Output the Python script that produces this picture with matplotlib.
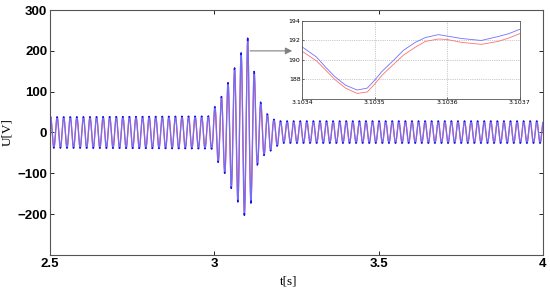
import numpy as np
import matplotlib
matplotlib.use("Agg")
import matplotlib.pyplot as plt

# -----------------------------------------
# data
# -----------------------------------------
f0 = 50.0                      # carrier frequency [Hz]
t_start, t_end = 2.5, 4.0

# positive peaks (time [s], value [V])
pos_t = [2.5, 2.9815, 3.0015, 3.0215, 3.0415, 3.0615, 3.0815, 3.1015,
         3.1215, 3.1415, 3.1615, 3.1815, 3.2015, 4.0]
pos_v = [38, 40, 63, 88, 122, 158, 195, 231, 149, 73, 45, 32, 28, 28]

# negative peaks
neg_t = [2.5, 2.9915, 3.0115, 3.0315, 3.0515, 3.0715, 3.0915, 3.1115,
         3.1315, 3.1515, 3.1715, 3.1915, 3.2115, 4.0]
neg_v = [-38, -40, -73, -100, -137, -170, -203, -173, -78, -56, -45, -33, -26, -26]

# zoomed detail (offset from 3.1034 in 1e-4 s)
zoom_t = [0.0, 0.2, 0.32, 0.45, 0.6, 0.76, 0.9, 1.0, 1.1, 1.24, 1.4, 1.56,
          1.7, 1.88, 2.0, 2.2, 2.47, 2.7, 2.85, 3.0]
zoom_blue = [191.35, 190.3, 189.3, 188.3, 187.4, 186.9, 187.1, 187.9, 188.8,
             189.8, 191.0, 191.8, 192.3, 192.6, 192.45, 192.2, 192.0, 192.4,
             192.7, 193.15]
zoom_red = [190.9, 189.9, 189.0, 188.0, 187.1, 186.55, 186.7, 187.5, 188.4,
            189.4, 190.5, 191.3, 191.9, 192.15, 192.1, 191.8, 191.6, 191.9,
            192.25, 192.7]


# -----------------------------------------
# build waveforms
# -----------------------------------------
def carrier(t, shift):
    return np.cos(2 * np.pi * f0 * (t - 3.1015 - shift))


def waveform(t, shift, scale):
    c = carrier(t, shift)
    up = np.interp(t, pos_t, pos_v)
    lo = -np.interp(t, neg_t, neg_v)
    return scale * np.where(c > 0, up * c, lo * c)


t = np.arange(t_start, t_end, 2e-5)
u_blue = waveform(t, 0.0, 1.0)
u_red = waveform(t, 0.00025, 0.97)
# darker tips where the trace turns round
tips = np.where(np.abs(carrier(t, 0.0)) > 0.985, u_blue, np.nan)

zt = 3.1034 + np.array(zoom_t) * 1e-4

# -----------------------------------------
# plot
# -----------------------------------------
fig = plt.figure(figsize=(5.5, 2.88), dpi=100)
ax = fig.add_axes([0.091, 0.115, 0.896, 0.85])
ax.plot(t, u_red, color="#ff5050", lw=0.9)
ax.plot(t, u_blue, color="#6e6eff", lw=0.9)
ax.plot(t, tips, color="#1010ee", lw=1.0)
ax.set_xlim(2.5, 4)
ax.set_ylim(-300, 300)
ax.set_xticks([2.5, 3, 3.5, 4])
ax.set_xticklabels(["2.5", "3", "3.5", "4"])
ax.set_yticks([-200, -100, 0, 100, 200, 300])
ax.tick_params(direction="in", top=True, right=True, length=3, width=0.6,
               labelsize=9.5, pad=2)
for lab in ax.get_xticklabels() + ax.get_yticklabels():
    lab.set_fontweight("bold")
    lab.set_family("Liberation Sans")
for s in ax.spines.values():
    s.set_color("#555555")
    s.set_linewidth(0.8)
ax.set_xlabel("t[s]", family="Liberation Serif", fontsize=9.5)
ax.xaxis.set_label_coords(0.485, -0.085)
ax.set_ylabel("U[V]", family="Liberation Serif", fontsize=9.5)
ax.yaxis.set_label_coords(-0.074, 0.5)

# arrow from peak to inset
ax.annotate("", xy=(3.237, 200), xytext=(3.109, 200),
            arrowprops=dict(arrowstyle="-|>", color="gray", lw=0.8,
                            mutation_scale=10, facecolor="black",
                            edgecolor="black", shrinkA=0, shrinkB=0))

# inset
axi = fig.add_axes([0.549, 0.657, 0.396, 0.27])
axi.plot(zt, zoom_red, color="#ff7070", lw=0.6)
axi.plot(zt, zoom_blue, color="#7070ff", lw=0.6)
axi.set_xlim(3.1034, 3.1037)
axi.set_ylim(186, 194)
axi.set_xticks([3.1034, 3.1035, 3.1036, 3.1037])
axi.set_xticklabels(["3.1034", "3.1035", "3.1036", "3.1037"])
axi.set_yticks([188, 190, 192, 194])
axi.tick_params(direction="in", length=1.5, width=0.4, labelsize=4.5, pad=1)
axi.grid(True, ls=":", color="#999999", lw=0.5)
for s in axi.spines.values():
    s.set_color("#555555")
    s.set_linewidth(0.6)

fig.savefig("out.png", dpi=100)
